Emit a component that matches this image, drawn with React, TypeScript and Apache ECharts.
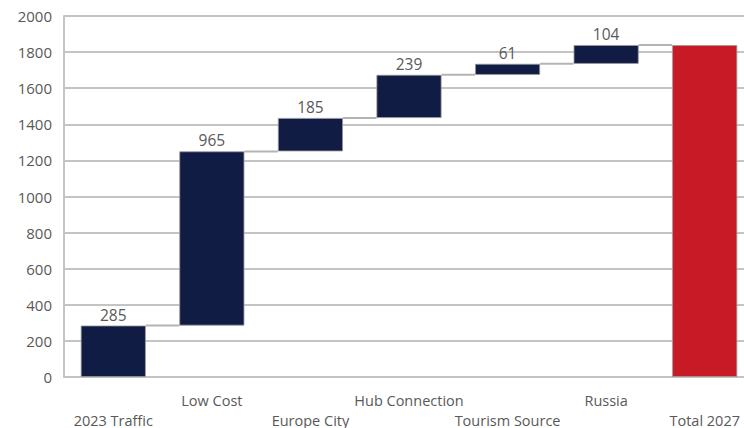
import React, { useEffect, useRef } from "react";
import * as echarts from "echarts";

const categories = ["2023 Traffic", "Low Cost", "Europe City", "Hub Connection", "Tourism Source", "Russia", "Total 2027"];
const baseValues = [0, 285, 1250, 1435, 1674, 1735, 0];
const deltaValues = [285, 965, 185, 239, 61, 104, 1839];
const connectorLevels = [285, 1250, 1435, 1674, 1735, 1839];
const yTicks = { min: 0, max: 2000, interval: 200 };

const NAVY = "#111c44";
const RED = "#c81a26";
const TEXT = "#595959";
const GRIDC = "#c4c4c4";
const FONT = "'Open Sans', sans-serif";

export default function App() {
  const ref = useRef<HTMLDivElement>(null);
  useEffect(() => {
    document.body.style.margin = "0";
    const chart = echarts.init(ref.current!, null, { renderer: "svg" });
    const barFrac = 0.66;
    chart.setOption({
      animation: false,
      grid: { left: 64, width: 690, top: 16, height: 361, containLabel: false, outerBoundsMode: "none" },
      xAxis: {
        type: "category",
        data: categories,
        axisLine: { show: true, lineStyle: { color: GRIDC, width: 2 } },
        axisTick: { show: false },
        axisLabel: {
          interval: 0,
          color: TEXT,
          fontFamily: FONT,
          fontSize: 14.5,
          lineHeight: 20,
          margin: 13,
          hideOverlap: false,
          formatter: (v: string, i: number) => (i % 2 === 0 ? "\n" + v : v),
        },
      },
      yAxis: {
        type: "value",
        min: yTicks.min,
        max: yTicks.max,
        interval: yTicks.interval,
        axisLine: { show: true, lineStyle: { color: GRIDC, width: 2 } },
        axisTick: { show: false },
        axisLabel: { color: TEXT, fontFamily: FONT, fontSize: 15, margin: 12, formatter: (v: number) => String(v) },
        splitLine: { show: true, lineStyle: { color: GRIDC, width: 2 } },
      },
      series: [
        {
          type: "bar",
          stack: "w",
          data: baseValues,
          barWidth: barFrac * 100 + "%",
          itemStyle: { color: "transparent" },
          silent: true,
        },
        {
          type: "bar",
          stack: "w",
          data: deltaValues.map((v, i) => ({
            value: v,
            itemStyle: { color: i === categories.length - 1 ? RED : NAVY },
            label: { show: i !== categories.length - 1 },
          })),
          barWidth: barFrac * 100 + "%",
          itemStyle: { borderColor: "#9a9a9a", borderWidth: 0.8 },
          label: {
            show: true,
            position: "top",
            distance: 3,
            color: TEXT,
            fontFamily: FONT,
            fontSize: 15.5,
          },
        },
        {
          type: "custom",
          silent: true,
          z: 1,
          data: connectorLevels.map((v, i) => [i, v]),
          renderItem: (params: any, api: any) => {
            const i = api.value(0);
            const v = api.value(1);
            const p1 = api.coord([i, v]);
            const p2 = api.coord([i + 1, v]);
            const bw = api.size([1, 0])[0];
            const half = (bw * barFrac) / 2;
            return {
              type: "line",
              shape: { x1: p1[0] + half, y1: p1[1], x2: p2[0] - half, y2: p2[1] },
              style: { stroke: "#b4b4b4", lineWidth: 2 },
            };
          },
        },
      ],
    });
    return () => chart.dispose();
  }, []);
  return <div ref={ref} style={{ width: 744, height: 428, position: "absolute", left: 0, top: 0 }} />;
}
